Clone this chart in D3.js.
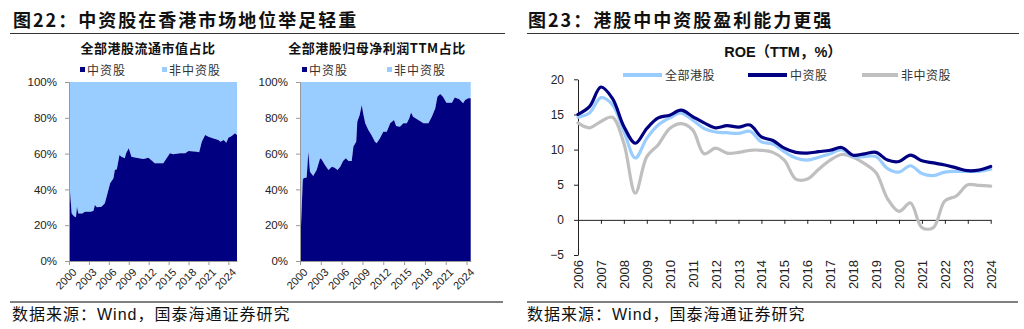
<!DOCTYPE html>
<html><head><meta charset="utf-8">
<script src="https://cdn.jsdelivr.net/npm/d3@7"></script>
<style>
html,body{margin:0;padding:0;background:#fff;}
svg{display:block;}
text{font-family:"Liberation Sans",Arial,"Noto Sans CJK SC",sans-serif;}
.cjk{font-family:"Noto Sans CJK SC",sans-serif;}
</style></head><body>
<svg id="c" width="1024" height="329"></svg>
<script>
// ---------- data ----------
const mvYears = [2000.0,2000.15,2000.4,2000.75,2001.05,2001.2,2001.4,2002.0,2002.4,2003.2,2003.67,2003.9,2004.2,2004.9,2005.4,2005.8,2006.2,2006.7,2006.9,2007.2,2007.6,2007.9,2008.4,2008.6,2009.0,2009.4,2010.1,2011.2,2011.96,2012.5,2012.9,2014.2,2014.7,2015.2,2015.7,2016.7,2017.5,2018.0,2019.25,2019.6,2020.0,2020.5,2021.0,2021.76,2022.5,2022.8,2023.3,2023.7,2024.0,2024.5,2025.0,2025.3];
const mvShare = [36,38.7,26.6,25,24.4,30.3,26.6,26.5,27.5,27.5,28,31.3,30,30.3,32.2,37.8,43.4,46.2,50.8,51.2,59.2,58.3,57.4,60.2,63,58.3,57.7,57,57.7,56,54.6,54.6,57.4,60.2,59.6,60.2,60.2,61.5,61,60.7,66.6,70.4,69.4,68.5,67.6,66.6,67.6,66.1,68.9,69.8,71.3,70.4];

const npYears = [2000.0,2000.1,2000.4,2000.5,2000.96,2001.2,2001.44,2001.9,2002.4,2002.9,2003.1,2003.6,2004.1,2004.6,2005.0,2005.4,2005.8,2006.2,2006.6,2007.0,2007.45,2007.7,2008.1,2008.26,2008.6,2008.9,2009.1,2009.4,2009.85,2010.3,2010.8,2011.05,2011.5,2012.0,2012.5,2013.0,2013.55,2013.85,2014.4,2014.9,2015.4,2015.75,2016.0,2016.3,2017.05,2017.8,2018.5,2019.0,2019.5,2019.8,2020.2,2020.6,2021.1,2021.9,2022.3,2022.96,2023.5,2023.8,2024.25,2024.6];
const npShare = [0,15,45,46.2,46.7,61,49.9,47.5,50.8,57.4,56.8,53.6,50.8,52.7,52.1,50.8,52.7,55.9,57.4,55.9,55.9,63.9,66.6,77.8,81.6,87.2,82.5,76.9,73.2,70.4,66.6,65.8,68.5,72.2,72.2,76.9,78.8,75.4,75,76.9,76.9,79.7,82.9,80.6,78.8,76.9,76.9,80.6,85.3,91.8,93.3,91.8,88.4,88.4,91.4,90.3,88.1,89.9,90.9,90.9];

const leftTicksX = [2000,2003,2006,2009,2012,2015,2018,2021,2024];
const leftTicksY = [0,20,40,60,80,100];
const legendLeft = ["中资股","非中资股"];

const roeYears = [2006,2006.5,2007,2007.5,2008,2008.5,2009,2009.5,2010,2010.5,2011,2011.5,2012,2012.5,2013,2013.5,2014,2014.5,2015,2015.5,2016,2016.5,2017,2017.5,2018,2018.5,2019,2019.5,2020,2020.5,2021,2021.5,2022,2022.5,2023,2023.5,2024];
const roeAll = [14.6,15.2,17.4,16.4,12.6,8.8,11.6,13.5,14.5,15.2,14.2,13.0,12.5,12.4,12.3,12.6,11.1,10.8,9.7,8.8,8.5,8.9,9.4,10.0,9.0,9.0,9.0,7.3,6.8,7.7,6.6,6.3,6.8,6.9,6.9,6.9,7.2];
const roeChina = [15.0,16.1,18.9,17.3,13.3,10.9,13.0,14.5,14.9,15.6,14.7,13.8,13.1,13.4,13.2,13.5,11.8,11.3,10.2,9.6,9.5,9.7,9.9,10.3,9.2,9.4,9.6,8.5,8.3,9.2,8.4,8.1,7.8,7.4,7.0,7.1,7.6];
const roeNonChina = [13.8,13.1,14.0,14.6,10.9,3.8,9.0,10.7,13.0,13.7,12.8,9.4,10.2,9.5,9.6,9.9,9.9,9.6,8.5,5.8,5.8,7.2,8.5,9.3,8.9,8.0,6.7,3.0,1.2,2.4,-1.1,-1.1,2.7,3.4,5.0,4.9,4.8];
const roeNames = ["全部港股","中资股","非中资股"];
const roeTicksY = [-5,0,5,10,15,20];
const roeTicksX = d3.range(2006,2025);

// ---------- styles ----------
const NAVY = "#000080", LIGHT = "#99CCFF", GRAY = "#BFBFBF";
const svg = d3.select("#c");

// ---------- headers / footers ----------
function header(x, lineX1, lineX2, txt){
  svg.append("text").attr("class","cjk").attr("x",x).attr("y",27)
    .attr("font-size",18).attr("font-weight","bold").attr("letter-spacing",2)
    .attr("fill","#111").text(txt);
  svg.append("line").attr("x1",lineX1).attr("x2",lineX2).attr("y1",33.5).attr("y2",33.5)
    .attr("stroke","#333").attr("stroke-width",1);
}
header(13,10,505,"图22：中资股在香港市场地位举足轻重");
header(528,527,1019,"图23：港股中中资股盈利能力更强");

function footer(x, lineX1, lineX2){
  svg.append("line").attr("x1",lineX1).attr("x2",lineX2).attr("y1",302).attr("y2",302)
    .attr("stroke","#808080").attr("stroke-width",2);
  svg.append("text").attr("x",x).attr("y",320).attr("font-size",16).attr("letter-spacing",1)
    .attr("font-family","'Liberation Serif','Noto Sans CJK SC',serif").attr("fill","#111")
    .text("数据来源：Wind，国泰海通证券研究");
}
footer(12,10,503);
footer(527,527,1018);

// ---------- left area charts ----------
function areaChart(opt){
  const x = d3.scaleLinear().domain(opt.xDomain).range([opt.x0, opt.x1]);
  const y = d3.scaleLinear().domain([0,100]).range([261, 82]);
  const data = opt.years.map((t,i)=>({t, v: opt.values[i]}));
  const g = svg.append("g");
  g.append("path").datum(data)
    .attr("d", d3.area().x(d=>x(d.t)).y0(d=>y(d.v)).y1(()=>y(100)))
    .attr("fill", LIGHT);
  g.append("path").datum(data)
    .attr("d", d3.area().x(d=>x(d.t)).y0(y(0)).y1(d=>y(d.v)))
    .attr("fill", NAVY);
  const ya = d3.axisLeft(y).tickValues(leftTicksY).tickFormat(d=>d+"%").tickSize(4).tickPadding(8);
  const yg = g.append("g").attr("transform",`translate(${opt.x0},0)`).call(ya);
  yg.select(".domain").attr("stroke","#999");
  yg.selectAll(".tick line").attr("stroke","#999");
  yg.selectAll("text").attr("font-size",11.5).attr("fill","#222").attr("font-family","'Liberation Sans',Arial,sans-serif");
  const xa = d3.axisBottom(x).tickValues(leftTicksX).tickFormat(d3.format("d")).tickSize(4).tickSizeOuter(0);
  const xg = g.append("g").attr("transform",`translate(0,261)`).call(xa);
  xg.select(".domain").attr("stroke","#999");
  xg.selectAll(".tick line").attr("stroke","#999");
  xg.selectAll("text").attr("font-size",11).attr("fill","#222")
    .attr("font-family","'Liberation Sans',Arial,sans-serif")
    .attr("text-anchor","end").attr("dy",0).attr("dx",0)
    .attr("transform","translate(3,7) rotate(-45)");
  svg.append("text").attr("class","cjk").attr("x",opt.titleX).attr("y",53)
    .attr("text-anchor","middle").attr("font-size",13).attr("font-weight","bold")
    .attr("letter-spacing",0.5).attr("fill","#111").text(opt.title);
  const cols=[NAVY,LIGHT];
  legendLeft.forEach((name,i)=>{
    svg.append("rect").attr("x",opt.legX[i]).attr("y",67).attr("width",5).attr("height",5).attr("fill",cols[i]);
    svg.append("text").attr("class","cjk").attr("x",opt.legX[i]+7).attr("y",74.5)
      .attr("font-size",12).attr("letter-spacing",1).attr("fill","#333").text(name);
  });
}
areaChart({years:mvYears, values:mvShare, xDomain:[2000,2025.3], x0:69, x1:237,
  title:"全部港股流通市值占比", titleX:148, legX:[80,162]});
areaChart({years:npYears, values:npShare, xDomain:[2000,2024.6], x0:300, x1:470.7,
  title:"全部港股归母净利润TTM占比", titleX:377, legX:[302,387]});

// ---------- right line chart ----------
{
  const x = d3.scaleLinear().domain([2006,2024]).range([578, 990.7]);
  const y = d3.scaleLinear().domain([-5,20]).range([255, 79.3]);
  const g = svg.append("g");
  const ya = d3.axisLeft(y).tickValues(roeTicksY).tickSize(4).tickPadding(10).tickSizeOuter(0);
  const yg = g.append("g").attr("transform","translate(578,0)").call(ya);
  yg.select(".domain").attr("stroke","#222");
  yg.selectAll(".tick line").attr("stroke","#222");
  yg.selectAll("text").attr("font-size",12).attr("fill","#222").attr("font-family","'Liberation Sans',Arial,sans-serif");
  const xa = d3.axisBottom(x).tickValues(roeTicksX).tickFormat(d3.format("d")).tickSize(4).tickSizeOuter(0);
  const xg = g.append("g").attr("transform",`translate(0,${y(0)})`).call(xa);
  xg.select(".domain").attr("stroke","#222");
  xg.selectAll(".tick line").attr("stroke","#222");
  xg.selectAll("text").attr("font-size",13).attr("fill","#222")
    .attr("font-family","'Liberation Sans',Arial,sans-serif")
    .attr("text-anchor","end").attr("dy","0.35em").attr("y",0)
    .attr("transform",`translate(0,${260 - y(0)}) rotate(-90)`);
  const series = [roeAll, roeChina, roeNonChina];
  const cols = [LIGHT, NAVY, GRAY];
  const line = d3.line().x((d,i)=>x(roeYears[i])).y(d=>y(d)).curve(d3.curveCatmullRom.alpha(0.5));
  [2,0,1].forEach(k=>{
    g.append("path").datum(series[k]).attr("d",line).attr("fill","none")
      .attr("stroke",cols[k]).attr("stroke-width",3.2).attr("stroke-linejoin","round").attr("stroke-linecap","round");
  });
  svg.append("text").attr("x",783).attr("y",57).attr("text-anchor","middle")
    .attr("font-size",14.5).attr("font-weight","bold").attr("fill","#111")
    .attr("font-family","'Liberation Sans',Arial,'Noto Sans CJK SC',sans-serif")
    .text("ROE（TTM，%）");
  const lx = [[623,662],[748,787],[862,898]];
  roeNames.forEach((n,i)=>{
    svg.append("line").attr("x1",lx[i][0]).attr("x2",lx[i][1]).attr("y1",75).attr("y2",75)
      .attr("stroke",cols[i]).attr("stroke-width",4);
    svg.append("text").attr("class","cjk").attr("x",lx[i][1]+3).attr("y",79.5)
      .attr("font-size",12).attr("letter-spacing",0.5).attr("fill","#333").text(n);
  });
}
</script>
</body></html>
